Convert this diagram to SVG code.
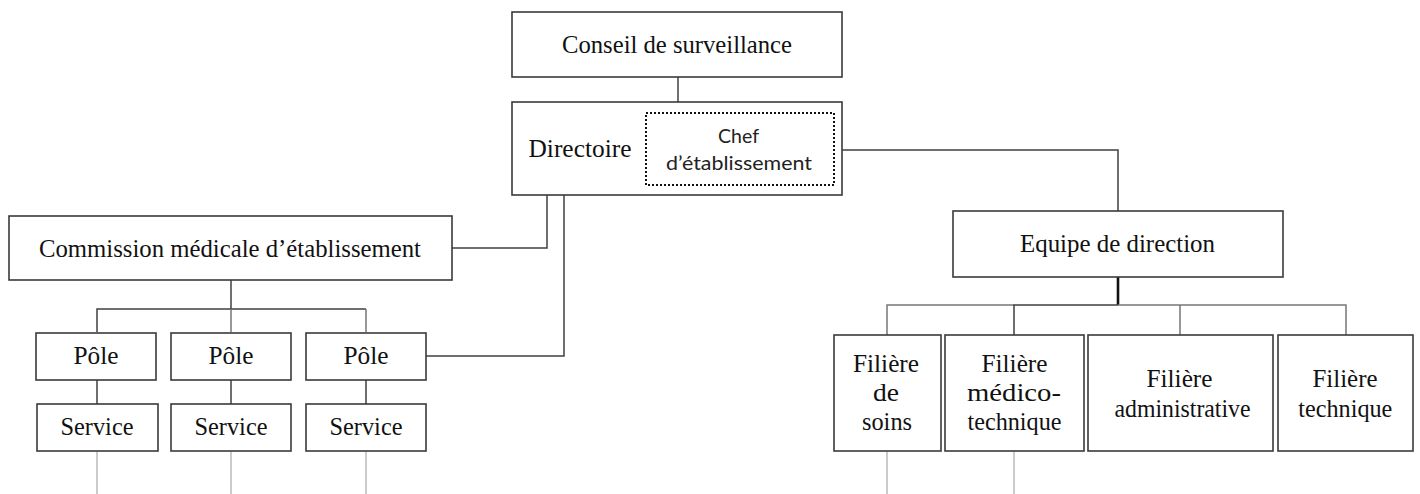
<svg xmlns="http://www.w3.org/2000/svg" width="1420" height="494" viewBox="0 0 1420 494">
<style>
.box{fill:#fff;stroke:#3a3a3a;stroke-width:1.6}
.dot{fill:none;stroke:#111;stroke-width:2;stroke-dasharray:2 2}
.t{font-family:"Liberation Serif","Times New Roman",serif;font-size:25px;fill:#111;text-anchor:middle}
.s{font-family:Lato,"Open Sans","Liberation Sans",sans-serif;font-size:19px;fill:#222;text-anchor:middle}
.c{fill:none;stroke:#404040;stroke-width:1.5}
.g{fill:none;stroke:#777;stroke-width:1.5}
.l{fill:none;stroke:#b0b0b0;stroke-width:1.3}
</style>
<rect width="1420" height="494" fill="#fff"/>
<g id="connectors">
<path class="c" d="M678 77V102"/>
<path class="c" d="M452 248H547V195"/>
<path class="c" d="M426 356H564V195"/>
<path class="c" d="M834 150H1118V211"/>
<path class="c" d="M231 280V309"/>
<path class="c" d="M97 332V309H366"/>
<path class="g" d="M231 309V332M366 309V332"/>
<path class="c" d="M97 380V404M231 380V404M366 380V404"/>
<path class="l" d="M97 451V494M231 451V494M366 451V494"/>
<path fill="none" stroke="#111" stroke-width="2.6" d="M1118 277V305"/>
<path class="g" d="M887 335V305H1014"/>
<path class="c" d="M1014 335V305H1118"/>
<path class="g" d="M1118 305H1346V335M1180 305V335"/>
<path class="l" d="M887 451V494M1014 451V494"/>
</g>
<g id="conseil">
<rect class="box" x="512" y="12" width="330" height="65"/>
<text class="t" x="677" y="53" textLength="230" lengthAdjust="spacingAndGlyphs">Conseil de surveillance</text>
</g>
<g id="directoire">
<rect class="box" x="512" y="102" width="330" height="93"/>
<text class="t" x="580" y="157" textLength="103" lengthAdjust="spacingAndGlyphs">Directoire</text>
</g>
<g id="chef">
<rect class="dot" x="646" y="113" width="188" height="72"/>
<text class="s" x="738.5" y="143" textLength="41" lengthAdjust="spacingAndGlyphs">Chef</text>
<text class="s" x="739" y="170" textLength="146" lengthAdjust="spacingAndGlyphs">d’établissement</text>
</g>
<g id="commission">
<rect class="box" x="9" y="216" width="443" height="64"/>
<text class="t" x="230" y="257" textLength="382" lengthAdjust="spacingAndGlyphs">Commission médicale d’établissement</text>
</g>
<g id="pole1">
<rect class="box" x="36" y="333" width="120" height="47"/>
<text class="t" x="96" y="364" textLength="45" lengthAdjust="spacingAndGlyphs">Pôle</text>
</g>
<g id="pole2">
<rect class="box" x="171" y="333" width="120" height="47"/>
<text class="t" x="231" y="364" textLength="45" lengthAdjust="spacingAndGlyphs">Pôle</text>
</g>
<g id="pole3">
<rect class="box" x="306" y="333" width="120" height="47"/>
<text class="t" x="366" y="364" textLength="45" lengthAdjust="spacingAndGlyphs">Pôle</text>
</g>
<g id="service1">
<rect class="box" x="37" y="404" width="121" height="47"/>
<text class="t" x="97" y="435" textLength="73" lengthAdjust="spacingAndGlyphs">Service</text>
</g>
<g id="service2">
<rect class="box" x="171" y="404" width="120" height="47"/>
<text class="t" x="231" y="435" textLength="73" lengthAdjust="spacingAndGlyphs">Service</text>
</g>
<g id="service3">
<rect class="box" x="306" y="404" width="120" height="47"/>
<text class="t" x="366" y="435" textLength="73" lengthAdjust="spacingAndGlyphs">Service</text>
</g>
<g id="equipe">
<rect class="box" x="953" y="211" width="330" height="66"/>
<text class="t" x="1117.5" y="252" textLength="195" lengthAdjust="spacingAndGlyphs">Equipe de direction</text>
</g>
<g id="filiere-soins">
<rect class="box" x="834" y="335" width="107" height="116"/>
<text class="t" x="886" y="372" textLength="66" lengthAdjust="spacingAndGlyphs">Filière</text>
<text class="t" x="886" y="401" textLength="26" lengthAdjust="spacingAndGlyphs">de</text>
<text class="t" x="887" y="430" textLength="50" lengthAdjust="spacingAndGlyphs">soins</text>
</g>
<g id="filiere-medico">
<rect class="box" x="945" y="335" width="139" height="116"/>
<text class="t" x="1014.5" y="372" textLength="66" lengthAdjust="spacingAndGlyphs">Filière</text>
<text class="t" x="1014" y="401" textLength="94" lengthAdjust="spacingAndGlyphs">médico-</text>
<text class="t" x="1014.5" y="430" textLength="94" lengthAdjust="spacingAndGlyphs">technique</text>
</g>
<g id="filiere-admin">
<rect class="box" x="1088" y="335" width="185" height="116"/>
<text class="t" x="1179.5" y="387" textLength="66" lengthAdjust="spacingAndGlyphs">Filière</text>
<text class="t" x="1182.5" y="417" textLength="136" lengthAdjust="spacingAndGlyphs">administrative</text>
</g>
<g id="filiere-technique">
<rect class="box" x="1278" y="335" width="135" height="116"/>
<text class="t" x="1345" y="387" textLength="65" lengthAdjust="spacingAndGlyphs">Filière</text>
<text class="t" x="1345.3" y="417" textLength="94" lengthAdjust="spacingAndGlyphs">technique</text>
</g>
</svg>
